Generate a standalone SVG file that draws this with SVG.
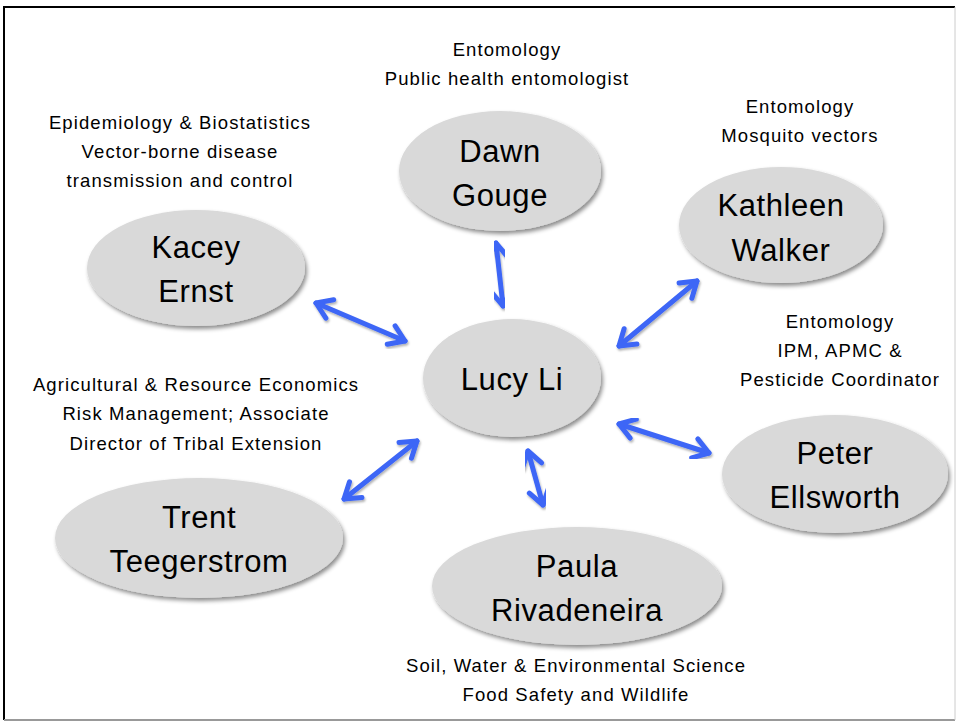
<svg xmlns="http://www.w3.org/2000/svg" width="957" height="724" viewBox="0 0 957 724">
<style>
.node ellipse{fill:#d9d9d9;filter:url(#sh);}
.name{font-family:"Liberation Sans","DejaVu Sans",sans-serif;font-size:31px;letter-spacing:0.6px;fill:#000;text-anchor:middle;}
.lbl{font-family:"Liberation Sans","DejaVu Sans",sans-serif;font-size:18.5px;letter-spacing:1.1px;fill:#000;text-anchor:middle;}
.conn line{stroke:#3d66f6;stroke-width:5;stroke-linecap:round;marker-start:url(#ah);marker-end:url(#ah);filter:url(#ash);}
</style>
<defs>
<filter id="sh" x="-10%" y="-10%" width="125%" height="130%">
<feDropShadow dx="2" dy="3" stdDeviation="2" flood-color="#000" flood-opacity="0.45"/>
</filter>
<filter id="ash" x="-20%" y="-20%" width="140%" height="140%">
<feDropShadow dx="1" dy="2" stdDeviation="1.2" flood-color="#000" flood-opacity="0.3"/>
</filter>
<marker id="ah" markerUnits="userSpaceOnUse" viewBox="-20 -14 24 28" refX="0" refY="0" markerWidth="24" markerHeight="28" orient="auto-start-reverse">
<path d="M-15,-10 L0,0 L-15,10" fill="none" stroke="#3d66f6" stroke-width="5" stroke-linecap="round" stroke-linejoin="round"/>
</marker>
</defs>
<rect x="0" y="0" width="957" height="724" fill="#fff"/>
<path d="M4,720 L4,7 L955,7" fill="none" stroke="#000" stroke-width="2"/>
<path d="M4,720 L955,720" fill="none" stroke="#999" stroke-width="2"/>
<path d="M955,7 L955,720" fill="none" stroke="#ccc" stroke-width="1"/>

<g class="conn" id="connectors">
<line x1="496" y1="243" x2="503" y2="306"/>
<line x1="316" y1="303" x2="405" y2="341"/>
<line x1="697" y1="281" x2="619" y2="346"/>
<line x1="619" y1="424" x2="709" y2="453"/>
<line x1="528" y1="451" x2="543" y2="505"/>
<line x1="417" y1="441" x2="344" y2="499"/>
</g>

<g class="node" id="dawn">
<ellipse cx="500" cy="171" rx="101" ry="60"/>
<text class="name" x="500" y="162">Dawn</text>
<text class="name" x="500" y="206">Gouge</text>
</g>
<g class="node" id="kacey">
<ellipse cx="196" cy="268" rx="109" ry="58"/>
<text class="name" x="196" y="258">Kacey</text>
<text class="name" x="196" y="302">Ernst</text>
</g>
<g class="node" id="kathleen">
<ellipse cx="781" cy="225" rx="102" ry="58"/>
<text class="name" x="781" y="216">Kathleen</text>
<text class="name" x="781" y="261">Walker</text>
</g>
<g class="node" id="lucy">
<ellipse cx="512" cy="378" rx="89" ry="59"/>
<text class="name" x="512" y="390">Lucy Li</text>
</g>
<g class="node" id="peter">
<ellipse cx="835" cy="474" rx="113" ry="59"/>
<text class="name" x="835" y="464">Peter</text>
<text class="name" x="835" y="508">Ellsworth</text>
</g>
<g class="node" id="trent">
<ellipse cx="199" cy="538" rx="144" ry="60"/>
<text class="name" x="199" y="528">Trent</text>
<text class="name" x="199" y="572">Teegerstrom</text>
</g>
<g class="node" id="paula">
<ellipse cx="577" cy="586" rx="145" ry="59"/>
<text class="name" x="577" y="577">Paula</text>
<text class="name" x="577" y="621">Rivadeneira</text>
</g>

<g id="labels">
<text class="lbl" x="507" y="56">Entomology</text>
<text class="lbl" x="507" y="85">Public health entomologist</text>
<text class="lbl" x="180" y="129">Epidemiology &amp; Biostatistics</text>
<text class="lbl" x="180" y="158">Vector-borne disease</text>
<text class="lbl" x="180" y="187">transmission and control</text>
<text class="lbl" x="800" y="113">Entomology</text>
<text class="lbl" x="800" y="142">Mosquito vectors</text>
<text class="lbl" x="840" y="328">Entomology</text>
<text class="lbl" x="840" y="357">IPM, APMC &amp;</text>
<text class="lbl" x="840" y="386">Pesticide Coordinator</text>
<text class="lbl" x="196" y="391">Agricultural &amp; Resource Economics</text>
<text class="lbl" x="196" y="420">Risk Management; Associate</text>
<text class="lbl" x="196" y="450">Director of Tribal Extension</text>
<text class="lbl" x="576" y="672">Soil, Water &amp; Environmental Science</text>
<text class="lbl" x="576" y="701">Food Safety and Wildlife</text>
</g>
</svg>
